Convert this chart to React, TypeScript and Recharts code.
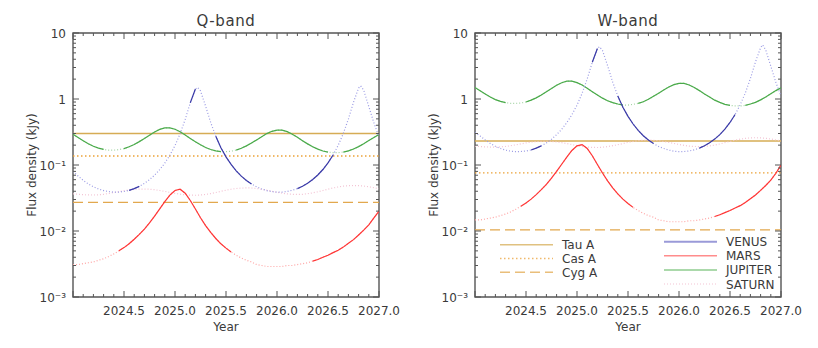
import React from 'react';
import { LineChart, Line, XAxis, YAxis, ReferenceLine, ReferenceArea, Legend } from 'recharts';

// ---------- data ----------
const years = [
  2024.0, 2024.05, 2024.1, 2024.15, 2024.2, 2024.25, 2024.3, 2024.35, 2024.4, 2024.45,
  2024.5, 2024.55, 2024.6, 2024.65, 2024.7, 2024.75, 2024.8, 2024.85, 2024.9, 2024.95,
  2025.0, 2025.05, 2025.1, 2025.15, 2025.2, 2025.25, 2025.3, 2025.35, 2025.4, 2025.45,
  2025.5, 2025.55, 2025.6, 2025.65, 2025.7, 2025.75, 2025.8, 2025.85, 2025.9, 2025.95,
  2026.0, 2026.05, 2026.1, 2026.15, 2026.2, 2026.25, 2026.3, 2026.35, 2026.4, 2026.45,
  2026.5, 2026.55, 2026.6, 2026.65, 2026.7, 2026.75, 2026.8, 2026.85, 2026.9, 2026.95,
  2027.0,
];

const venusYears = [
  2024.0, 2024.05, 2024.1, 2024.15, 2024.2, 2024.25, 2024.3, 2024.35, 2024.4, 2024.45,
  2024.5, 2024.55, 2024.6, 2024.65, 2024.7, 2024.75, 2024.8, 2024.85, 2024.9, 2024.95,
  2025.0, 2025.05, 2025.1, 2025.15, 2025.2, 2025.22, 2025.25, 2025.3, 2025.35, 2025.4, 2025.45,
  2025.5, 2025.55, 2025.6, 2025.65, 2025.7, 2025.75, 2025.8, 2025.85, 2025.9, 2025.95,
  2026.0, 2026.05, 2026.1, 2026.15, 2026.2, 2026.25, 2026.3, 2026.35, 2026.4, 2026.45,
  2026.5, 2026.55, 2026.6, 2026.65, 2026.7, 2026.75, 2026.8, 2026.82, 2026.85, 2026.9, 2026.95,
  2027.0,
];

const venusQ = [
  0.080, 0.068, 0.0586, 0.0517, 0.0468, 0.0433, 0.0410, 0.0395, 0.0388, 0.0389,
  0.0397, 0.0413, 0.0438, 0.0475, 0.0527, 0.0600, 0.0702, 0.0849, 0.107, 0.141,
  0.197, 0.297, 0.491, 0.878, 1.418, 1.50, 1.326, 0.780, 0.440, 0.272, 0.183,
  0.133, 0.102, 0.0815, 0.0679, 0.0584, 0.0516, 0.0467, 0.0433, 0.0409, 0.0395,
  0.0388, 0.0389, 0.0397, 0.0414, 0.0439, 0.0477, 0.0529, 0.0602, 0.0705, 0.0854,
  0.1075, 0.142, 0.199, 0.300, 0.497, 0.892, 1.47, 1.58, 1.36, 0.768, 0.435,
  0.269,
];
const venusW = [
  0.310, 0.275, 0.240, 0.212, 0.192, 0.178, 0.168, 0.162, 0.159, 0.160,
  0.163, 0.169, 0.180, 0.195, 0.216, 0.246, 0.288, 0.348, 0.439, 0.578,
  0.808, 1.22, 2.01, 3.60, 5.81, 6.2, 5.44, 3.20, 1.80, 1.11, 0.750,
  0.545, 0.418, 0.334, 0.278, 0.239, 0.212, 0.191, 0.178, 0.168, 0.162,
  0.159, 0.160, 0.163, 0.170, 0.180, 0.196, 0.217, 0.247, 0.289, 0.350,
  0.441, 0.582, 0.816, 1.23, 2.04, 3.66, 6.0, 6.6, 5.55, 3.15, 1.78,
  1.10,
];

const marsQ = [
  0.0031, 0.0031, 0.0032, 0.0033, 0.0034, 0.0036, 0.0038, 0.0041, 0.0045, 0.0050,
  0.0056, 0.0064, 0.0075, 0.0089, 0.0107, 0.0133, 0.0168, 0.0216, 0.0278, 0.0350,
  0.0411, 0.0429, 0.0374, 0.0290, 0.0215, 0.0159, 0.0121, 0.0095, 0.0077, 0.0064,
  0.0055, 0.0048, 0.0043, 0.0039, 0.0036, 0.0034, 0.0031, 0.0030, 0.0029, 0.0029,
  0.0029, 0.0029, 0.0030, 0.0030, 0.0031, 0.0032, 0.0033, 0.0035, 0.0037, 0.0040,
  0.0043, 0.0047, 0.0051, 0.0057, 0.0065, 0.0074, 0.0087, 0.0103, 0.0124, 0.0158,
  0.0200,
];
const marsW = [
  0.0147, 0.0147, 0.0152, 0.0157, 0.0162, 0.0171, 0.0181, 0.0195, 0.0214, 0.0238,
  0.0266, 0.0304, 0.0356, 0.0423, 0.0508, 0.0632, 0.0798, 0.1026, 0.132, 0.166,
  0.195, 0.204, 0.178, 0.138, 0.102, 0.0755, 0.0575, 0.0451, 0.0366, 0.0304,
  0.0261, 0.0228, 0.0204, 0.0185, 0.0171, 0.0162, 0.0147, 0.0143, 0.0138, 0.0138,
  0.0138, 0.0138, 0.0143, 0.0143, 0.0147, 0.0152, 0.0157, 0.0166, 0.0176, 0.0190,
  0.0204, 0.0223, 0.0242, 0.0271, 0.0309, 0.0352, 0.0413, 0.0489, 0.0589, 0.0750,
  0.100,
];

const jupiterQ = [
  0.292, 0.260, 0.233, 0.210, 0.192, 0.180, 0.172, 0.168, 0.168, 0.171,
  0.177, 0.189, 0.204, 0.226, 0.252, 0.283, 0.317, 0.346, 0.364, 0.365,
  0.348, 0.319, 0.285, 0.253, 0.225, 0.202, 0.184, 0.172, 0.164, 0.159,
  0.159, 0.162, 0.168, 0.179, 0.195, 0.215, 0.240, 0.269, 0.299, 0.324,
  0.337, 0.337, 0.320, 0.293, 0.263, 0.234, 0.209, 0.189, 0.174, 0.163,
  0.157, 0.154, 0.154, 0.157, 0.164, 0.175, 0.190, 0.210, 0.235, 0.262,
  0.290,
];
const jupiterW = [
  1.49, 1.33, 1.19, 1.07, 0.98, 0.92, 0.88, 0.86, 0.86, 0.87,
  0.90, 0.96, 1.04, 1.15, 1.29, 1.44, 1.62, 1.76, 1.86, 1.86,
  1.77, 1.63, 1.45, 1.29, 1.15, 1.03, 0.94, 0.88, 0.84, 0.81,
  0.81, 0.83, 0.86, 0.91, 0.99, 1.10, 1.22, 1.37, 1.52, 1.65,
  1.72, 1.72, 1.63, 1.49, 1.34, 1.19, 1.07, 0.96, 0.89, 0.83,
  0.80, 0.785, 0.785, 0.80, 0.84, 0.89, 0.97, 1.07, 1.20, 1.34,
  1.48,
];

const saturnQ = [
  0.0365, 0.0360, 0.0355, 0.0352, 0.0351, 0.0354, 0.0360, 0.0370, 0.0382, 0.0395,
  0.0408, 0.0419, 0.0427, 0.0431, 0.0432, 0.0429, 0.0422, 0.0411, 0.0398, 0.0385,
  0.0372, 0.0361, 0.0353, 0.0349, 0.0348, 0.0351, 0.0358, 0.0369, 0.0383, 0.0399,
  0.0415, 0.0429, 0.0440, 0.0447, 0.0450, 0.0448, 0.0441, 0.0429, 0.0415, 0.0400,
  0.0386, 0.0374, 0.0365, 0.0360, 0.0358, 0.0360, 0.0367, 0.0378, 0.0393, 0.0411,
  0.0430, 0.0449, 0.0465, 0.0478, 0.0486, 0.0489, 0.0487, 0.0480, 0.0468, 0.0453,
  0.0437,
];
const saturnW = [
  0.193, 0.191, 0.188, 0.187, 0.186, 0.188, 0.191, 0.196, 0.202, 0.209,
  0.216, 0.222, 0.226, 0.228, 0.229, 0.227, 0.224, 0.218, 0.211, 0.204,
  0.197, 0.191, 0.187, 0.185, 0.184, 0.186, 0.190, 0.196, 0.203, 0.211,
  0.220, 0.227, 0.233, 0.237, 0.239, 0.237, 0.234, 0.227, 0.220, 0.212,
  0.205, 0.198, 0.193, 0.191, 0.190, 0.191, 0.195, 0.200, 0.208, 0.218,
  0.228, 0.238, 0.246, 0.253, 0.258, 0.259, 0.258, 0.254, 0.248, 0.240,
  0.232,
];

// observable windows (drawn solid)
const venusWindows = [[2024.55, 2024.65], [2025.13, 2025.21], [2025.4, 2025.78], [2026.2, 2026.55]];
const marsWindows = [[2024.42, 2025.55], [2026.35, 2027.0]];
const jupiterWindows = [[2024.0, 2024.32], [2024.46, 2025.46], [2025.58, 2026.5], [2026.63, 2027.0]];

// calibrator sources (constant flux)
const sourceNames = ['Tau A', 'Cas A', 'Cyg A'];
const sourceQ = [0.30, 0.137, 0.0272];
const sourceW = [0.231, 0.076, 0.0104];
const planetNames = ['VENUS', 'MARS', 'JUPITER', 'SATURN'];

// ticks
const xTicks = [
  2024.0, 2024.1, 2024.2, 2024.3, 2024.4, 2024.5, 2024.6, 2024.7, 2024.8, 2024.9,
  2025.0, 2025.1, 2025.2, 2025.3, 2025.4, 2025.5, 2025.6, 2025.7, 2025.8, 2025.9,
  2026.0, 2026.1, 2026.2, 2026.3, 2026.4, 2026.5, 2026.6, 2026.7, 2026.8, 2026.9,
  2027.0,
];
const yTicks = [
  0.001, 0.002, 0.003, 0.004, 0.005, 0.006, 0.007, 0.008, 0.009,
  0.01, 0.02, 0.03, 0.04, 0.05, 0.06, 0.07, 0.08, 0.09,
  0.1, 0.2, 0.3, 0.4, 0.5, 0.6, 0.7, 0.8, 0.9,
  1, 2, 3, 4, 5, 6, 7, 8, 9,
  10,
];
const yMajor = [0.001, 0.01, 0.1, 1, 10];
const yMajorLabels = ['10⁻³', '10⁻²', '10⁻¹', '1', '10'];

// ---------- styling ----------
const FONT = 'DejaVu Sans, Verdana, sans-serif';
const TEXT = '#3a3a3a';
const FRAME = '#555';
const C = {
  tau: '#d6ac55', cas: '#eba238', cyg: '#e2a84e',
  venus: '#3a3aa6', venusDot: '#9a9ae4',
  mars: '#ff3535', marsDot: '#ffa4a4',
  jup: '#4aaa4a', jupDot: '#a3d4a3',
  sat: '#f3c4d4',
};
const CHART_W = 409, CHART_H = 348;
const PLOT_TOP = 33, PLOT_BOTTOM = 297, PLOT_LEFT = 73, PLOT_RIGHT = 379;
const Y_AXIS_W = 50, X_AXIS_H = 30;

const toRows = (xs: number[], vs: number[]) => xs.map((x, i) => ({ year: x, v: vs[i] }));
const masked = (xs: number[], vs: number[], wins: number[][]) =>
  xs.map((x, i) => ({
    year: x,
    v: wins.some(([a, b]) => x >= a - 1e-9 && x <= b + 1e-9) ? vs[i] : null,
  }));

const XTick = (props: any) => {
  const { x, payload } = props;
  const v = payload.value;
  const major = Math.abs(v * 2 - Math.round(v * 2)) < 1e-6;
  const len = major ? 6 : 3;
  return (
    <g>
      <line x1={x} x2={x} y1={PLOT_BOTTOM} y2={PLOT_BOTTOM - len} stroke={FRAME} strokeWidth={1} />
      <line x1={x} x2={x} y1={PLOT_TOP} y2={PLOT_TOP + len} stroke={FRAME} strokeWidth={1} />
      {major && v > 2024.1 && (
        <text x={x} y={PLOT_BOTTOM + 18} textAnchor="middle" fontSize={12} fill={TEXT} fontFamily={FONT}>
          {v.toFixed(1)}
        </text>
      )}
    </g>
  );
};

const YTick = (props: any) => {
  const { y, payload } = props;
  const v = payload.value;
  const idx = yMajor.findIndex((m) => Math.abs(m - v) < m * 1e-6);
  const major = idx >= 0;
  const len = major ? 6 : 3;
  return (
    <g>
      <line x1={PLOT_LEFT} x2={PLOT_LEFT + len} y1={y} y2={y} stroke={FRAME} strokeWidth={1} />
      <line x1={PLOT_RIGHT} x2={PLOT_RIGHT - len} y1={y} y2={y} stroke={FRAME} strokeWidth={1} />
      {major && (
        <text x={PLOT_LEFT - 7} y={y + 4.5} textAnchor="end" fontSize={12} fill={TEXT} fontFamily={FONT}>
          {yMajorLabels[idx]}
        </text>
      )}
    </g>
  );
};

const LegendBox = () => {
  const srcStyles = [
    { stroke: C.tau, dash: undefined },
    { stroke: C.cas, dash: '1.5 2.5' },
    { stroke: C.cyg, dash: '10 5' },
  ];
  const plStyles = [
    { stroke: '#9a9ad8', dash: undefined, w: 2 },
    { stroke: '#ff8c8c', dash: undefined, w: 1.5 },
    { stroke: '#8fcc8f', dash: undefined, w: 1.5 },
    { stroke: C.sat, dash: '1 2', w: 1.2 },
  ];
  return (
    <svg width={300} height={62} style={{ display: 'block' }}>
      {sourceNames.map((n, i) => (
        <g key={n}>
          <line x1={8} x2={61} y1={12.7 + i * 13.8} y2={12.7 + i * 13.8} stroke={srcStyles[i].stroke}
            strokeOpacity={0.75} strokeWidth={1.5} strokeDasharray={srcStyles[i].dash} />
          <text x={70} y={12.7 + i * 13.8 + 4.5} fontSize={12} fill={TEXT} fontFamily={FONT}>{n}</text>
        </g>
      ))}
      {planetNames.map((n, i) => (
        <g key={n}>
          <line x1={172} x2={225} y1={9.7 + i * 14.1} y2={9.7 + i * 14.1} stroke={plStyles[i].stroke}
            strokeWidth={plStyles[i].w} strokeDasharray={plStyles[i].dash} />
          <text x={234} y={9.7 + i * 14.1 + 4.5} fontSize={12} fill={TEXT} fontFamily={FONT}>{n}</text>
        </g>
      ))}
    </svg>
  );
};

const Panel = ({ band }: { band: 'Q' | 'W' }) => {
  const isQ = band === 'Q';
  const src = isQ ? sourceQ : sourceW;
  const ven = isQ ? venusQ : venusW;
  const mar = isQ ? marsQ : marsW;
  const jup = isQ ? jupiterQ : jupiterW;
  const sat = isQ ? saturnQ : saturnW;
  const lw = 1.2;
  return (
    <LineChart
      width={CHART_W}
      height={CHART_H}
      margin={{ top: PLOT_TOP, right: CHART_W - PLOT_RIGHT, bottom: CHART_H - PLOT_BOTTOM - X_AXIS_H, left: PLOT_LEFT - Y_AXIS_W }}
    >
      <XAxis dataKey="year" type="number" domain={[2024, 2027]} allowDataOverflow ticks={xTicks} interval={0}
        tick={<XTick />} tickLine={false} axisLine={false} height={X_AXIS_H} />
      <YAxis type="number" scale="log" domain={[0.001, 10]} allowDataOverflow ticks={yTicks} interval={0}
        tick={<YTick />} tickLine={false} axisLine={false} width={Y_AXIS_W} />
      <ReferenceArea x1={2024} x2={2027} y1={0.001} y2={10} fill="none" fillOpacity={0} stroke={FRAME} strokeWidth={1.4} ifOverflow="visible" />
      <ReferenceLine y={src[0]} stroke={C.tau} strokeWidth={1.3} ifOverflow="visible" />
      <ReferenceLine y={src[1]} stroke={C.cas} strokeWidth={1.3} strokeDasharray="1.5 2.5" ifOverflow="visible" />
      <ReferenceLine y={src[2]} stroke={C.cyg} strokeWidth={1.3} strokeDasharray="10 5" ifOverflow="visible" />

      <Line data={toRows(years, sat)} dataKey="v" stroke={C.sat} strokeWidth={lw} strokeDasharray="1 2" dot={false} isAnimationActive={false} />
      <Line data={toRows(years, jup)} dataKey="v" stroke={C.jupDot} strokeWidth={lw} strokeDasharray="1 2" dot={false} isAnimationActive={false} />
      <Line data={masked(years, jup, jupiterWindows)} dataKey="v" stroke={C.jup} strokeWidth={lw} dot={false} connectNulls={false} isAnimationActive={false} />
      <Line data={toRows(years, mar)} dataKey="v" stroke={C.marsDot} strokeWidth={lw} strokeDasharray="1 2" dot={false} isAnimationActive={false} />
      <Line data={masked(years, mar, marsWindows)} dataKey="v" stroke={C.mars} strokeWidth={lw} dot={false} connectNulls={false} isAnimationActive={false} />
      <Line data={toRows(venusYears, ven)} dataKey="v" stroke={C.venusDot} strokeWidth={lw} strokeDasharray="1 2" dot={false} isAnimationActive={false} />
      <Line data={masked(venusYears, ven, venusWindows)} dataKey="v" stroke={C.venus} strokeWidth={lw} dot={false} connectNulls={false} isAnimationActive={false} />

      {!isQ && (
        <Legend layout="vertical" align="center" verticalAlign="middle" content={() => <LegendBox />}
          wrapperStyle={{ left: 90, top: 232, width: 300, height: 62, margin: 0, padding: 0 }} />
      )}
    </LineChart>
  );
};

const labelStyle: React.CSSProperties = {
  position: 'absolute', fontFamily: FONT, color: TEXT, whiteSpace: 'nowrap',
  transform: 'translate(-50%, -50%)', lineHeight: 1,
};

export default function App() {
  const panels: { band: 'Q' | 'W'; left: number; title: string }[] = [
    { band: 'Q', left: 0, title: 'Q-band' },
    { band: 'W', left: 402, title: 'W-band' },
  ];
  return (
    <div style={{ position: 'absolute', left: 0, top: 0, width: 818, height: 348, background: '#fff', overflow: 'hidden' }}>
      {panels.map((p) => (
        <div key={p.band} style={{ position: 'absolute', left: p.left, top: 0, width: CHART_W, height: CHART_H }}>
          <Panel band={p.band} />
          <div style={{ ...labelStyle, left: (PLOT_LEFT + PLOT_RIGHT) / 2, top: 21, fontSize: 15, letterSpacing: 0.6 }}>{p.title}</div>
          <div style={{ ...labelStyle, left: (PLOT_LEFT + PLOT_RIGHT) / 2, top: 327, fontSize: 12 }}>Year</div>
          <div style={{ ...labelStyle, left: PLOT_LEFT - 41, top: (PLOT_TOP + PLOT_BOTTOM) / 2, fontSize: 12, transform: 'translate(-50%, -50%) rotate(-90deg)' }}>
            Flux density (kJy)
          </div>
        </div>
      ))}
    </div>
  );
}
